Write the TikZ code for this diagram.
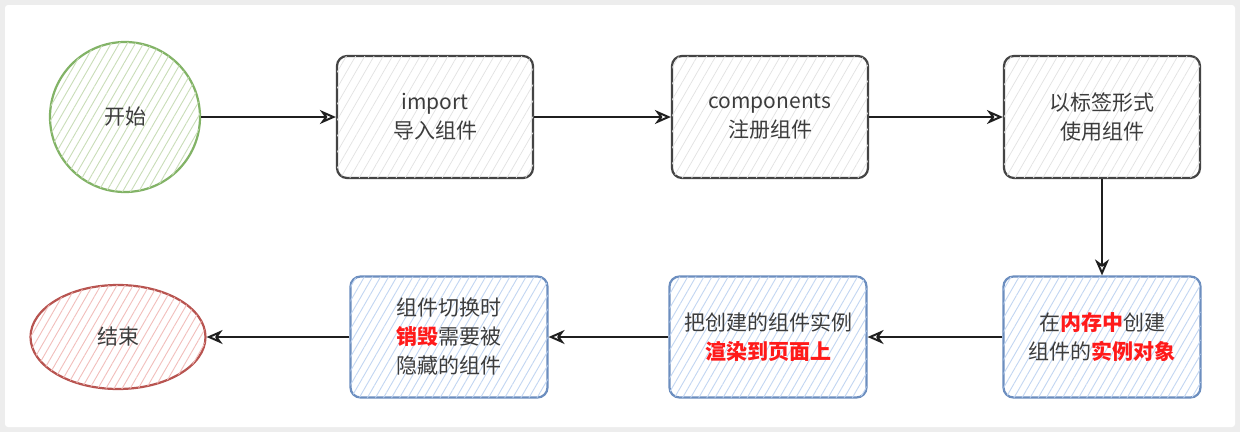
\documentclass[tikz,border=0pt]{standalone}
\usepackage{fontspec}
\setmainfont{Noto Sans CJK SC}
\usetikzlibrary{patterns.meta,arrows.meta,shapes.geometric}
\definecolor{txt}{HTML}{3C3C3C}
\definecolor{gstroke}{HTML}{82B366}
\definecolor{ghatch}{HTML}{C9DDB8}
\definecolor{rstroke}{HTML}{B85450}
\definecolor{rhatch}{HTML}{F2BEBB}
\definecolor{bstroke}{HTML}{6C8EBF}
\definecolor{bhatch}{HTML}{C2D6F2}
\definecolor{kstroke}{HTML}{444444}
\definecolor{khatch}{HTML}{E2E2E2}
\definecolor{redtxt}{HTML}{FF1A1A}
\tikzset{
  base/.style={font=\fontsize{21}{29}\selectfont, text=txt, align=center, line width=2.2pt},
  graybox/.style={base, draw=kstroke, fill=white, rounded corners=10pt, minimum width=196pt, minimum height=122pt,
     postaction={pattern={Lines[angle=60,distance=8pt,line width=0.7pt]}, pattern color=khatch}},
  bluebox/.style={base, draw=bstroke, fill=white, rounded corners=10pt, minimum width=197pt, minimum height=121pt,
     postaction={pattern={Lines[angle=60,distance=7pt,line width=0.9pt]}, pattern color=bhatch}},
  startnode/.style={base, circle, draw=gstroke, fill=white, minimum size=150pt,
     postaction={pattern={Lines[angle=60,distance=7pt,line width=0.9pt]}, pattern color=ghatch}},
  endnode/.style={base, ellipse, draw=rstroke, fill=white, minimum width=175pt, minimum height=104pt,
     postaction={pattern={Lines[angle=60,distance=7pt,line width=0.9pt]}, pattern color=rhatch}},
  conn/.style={line width=2.2pt, draw=black!88, -{Stealth[open,length=16pt,width=14pt,inset=5pt,line width=2pt]}}
}
\newcommand{\rd}[1]{\textcolor{redtxt}{\bfseries #1}}
\begin{document}
\begin{tikzpicture}[x=1pt,y=-1pt]
\fill[black!7] (0,0) rectangle (1240,432);
\fill[white, rounded corners=3pt] (5,5) rectangle (1235,427);
\useasboundingbox (0,0) rectangle (1240,432);
\node[startnode] (start) at (125,117) {开始};
\node[graybox] (imp) at (435,117) {import\\导入组件};
\node[graybox] (reg) at (770,117) {components\\注册组件};
\node[graybox] (use) at (1102,117) {以标签形式\\使用组件};
\node[bluebox] (mem) at (1102,337) {在\rd{内存中}创建\\组件的\rd{实例对象}};
\node[bluebox] (ren) at (768,337) {把创建的组件实例\\\rd{渲染到页面上}};
\node[bluebox] (des) at (449,337) {组件切换时\\\rd{销毁}需要被\\隐藏的组件};
\node[endnode] (fin) at (118,337) {结束};
\draw[conn] (start) -- (imp);
\draw[conn] (imp) -- (reg);
\draw[conn] (reg) -- (use);
\draw[conn] (use) -- (mem);
\draw[conn] (mem) -- (ren);
\draw[conn] (ren) -- (des);
\draw[conn] (des) -- (fin);
\end{tikzpicture}
\end{document}
